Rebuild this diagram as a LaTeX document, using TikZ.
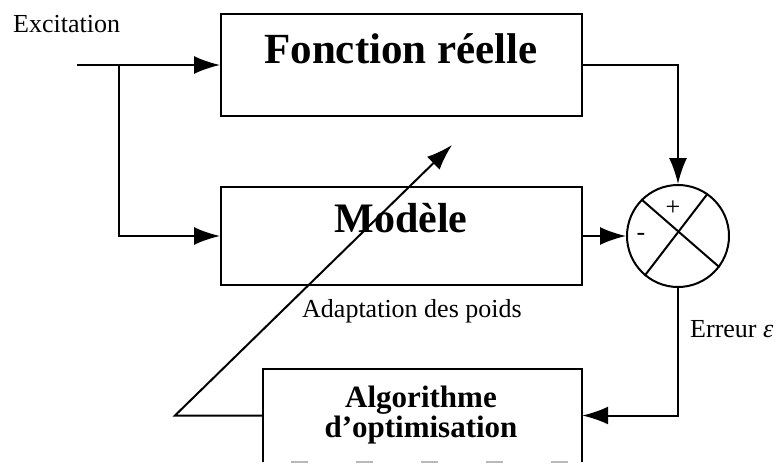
\documentclass[tikz,border=0pt]{standalone}
\usepackage{fontspec}
\setmainfont{Liberation Serif}
\usetikzlibrary{arrows.meta}

\tikzset{
  blockbox/.style={draw, line width=2pt, rectangle, inner sep=0pt},
  wire/.style={line width=2pt},
  arr/.style={wire, -{Latex[length=26pt, width=18pt]}},
  bigtitle/.style={font=\bfseries\fontsize{43}{43}\selectfont, inner sep=0pt},
  algtitle/.style={font=\bfseries\fontsize{31}{31}\selectfont, inner sep=0pt},
  smalltext/.style={font=\fontsize{26}{26}\selectfont, inner sep=0pt},
  signtext/.style={font=\fontsize{26}{26}\selectfont, inner sep=0pt},
}

\begin{document}
\begin{tikzpicture}[x=1pt, y=-1pt]
  \useasboundingbox (0,0) rectangle (782,464);

  % blocks
  \node[blockbox, minimum width=361pt, minimum height=102pt] (fr) at (401.5,65) {};
  \node[blockbox, minimum width=361pt, minimum height=98pt] (mod) at (401.5,236) {};
  \node[rectangle, inner sep=0pt, minimum width=319pt, minimum height=93pt] (alg) at (422.5,415.5) {};
  \draw[line width=2pt] (alg.south west) -- (alg.north west) -- (alg.north east) -- (alg.south east);
  \draw[line width=1.5pt, gray!55, dash pattern=on 17pt off 48pt] ([xshift=28pt]alg.south west) -- (alg.south east);

  % summing junction
  \node[draw, circle, line width=2pt, minimum size=102pt, inner sep=0pt] (sum) at (678,236) {};
  \draw[line width=2pt] (sum.135) -- (sum.-37);
  \draw[line width=2pt] (sum.55) -- (sum.-130);
  \node[signtext] (plus) at (673,208) {+};
  \node[signtext] (minus) at (641,237) {-};

  % block texts
  \node[bigtitle, anchor=base] (frt) at (401,63) {Fonction réelle};
  \node[bigtitle, font=\bfseries\fontsize{42}{42}\selectfont, anchor=base] (modt) at (401,232) {Modèle};
  \node[algtitle, anchor=base] (algt1) at (421,407) {Algorithme};
  \node[algtitle, anchor=base] (algt2) at (421,437) {d’optimisation};

  % free labels
  \node[smalltext, anchor=base west] (exc) at (13,32) {Excitation};
  \node[smalltext, anchor=base west] (adapt) at (302,317) {Adaptation des poids};
  \node[smalltext, anchor=base west] (err) at (690,337) {Erreur \textit{ε}};

  % connectors
  \coordinate (in) at (77,65);
  \coordinate (split) at (119,65);
  \coordinate (bend) at (175,415.5);
  \coordinate (tip) at (452,145);

  \draw[arr] (in) -- (fr.west);
  \draw[arr] (split) |- (mod.west);
  \draw[arr] (fr.east) -| (sum.north);
  \draw[arr] (mod.east) -- (sum.west);
  \draw[arr] (sum.south) |- (alg.east);
  \draw[arr] (alg.west) -- (bend) -- (tip);
\end{tikzpicture}
\end{document}
